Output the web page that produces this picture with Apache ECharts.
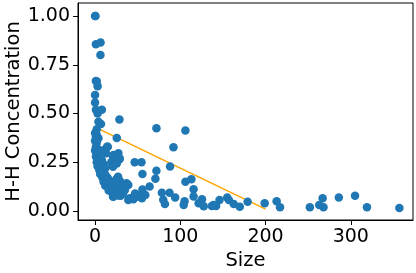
<!DOCTYPE html>
<html><head><meta charset="utf-8">
<script src="https://cdn.jsdelivr.net/npm/echarts@6/dist/echarts.min.js"></script>
<style>html,body{margin:0;padding:0;background:#fff}#c{width:416px;height:273px}</style>
</head><body><div id="c"></div>
<script>
const sizeX = [0,0.5,1,6.5,6.3,1,3,2,0,0,1,8,3,28.6,4,7,2,4,25.5,2,1,
 0,1,0,2,1,3,0,2,4,1,3,5,2,4,3,6,5,7,6,8,9,11,10,13,12,15,17,16,19,22,24,27,30,21,
 7,9,13,14,15,21,21.5,27.4,29,28.6,19,22,21,25.5,8,10,12,9,11,13,15,14,17,19,21,23,25,29,32.5,37,27,39,35,29,21.5,27,21.5,41,49,39,45,53,43,47,26,31,33,
 72,106,92,46.5,54.5,55.6,88,72,70.8,64,55.6,55,59,78.4,87.4,80,82,94,105,104,106,113,115.6,115.6,121.5,125.5,127.5,137,142,146,139,155,157,162.7,169.8,179,199,213,217,252,263,268,267,286,305,319,357];
const hhY = [1.00,1.00,0.855,0.865,0.80,0.667,0.64,0.665,0.595,0.557,0.52,0.52,0.50,0.47,0.458,0.446,0.39,0.373,0.374,0.42,0.40,
 0.40,0.38,0.36,0.35,0.33,0.32,0.31,0.30,0.29,0.28,0.27,0.26,0.25,0.24,0.23,0.22,0.21,0.20,0.19,0.18,0.17,0.16,0.15,0.14,0.13,0.125,0.115,0.105,0.10,0.09,0.085,0.08,0.078,0.075,
 0.30,0.31,0.296,0.33,0.33,0.28,0.287,0.296,0.27,0.265,0.25,0.236,0.227,0.244,0.26,0.24,0.22,0.21,0.195,0.18,0.17,0.16,0.155,0.145,0.135,0.125,0.164,0.155,0.133,0.142,0.176,0.133,0.108,0.116,0.108,0.086,0.073,0.065,0.073,0.056,0.06,0.082,0.065,0.09,0.10,0.095,0.09,
 0.424,0.413,0.327,0.25,0.25,0.19,0.228,0.207,0.166,0.126,0.111,0.065,0.082,0.094,0.094,0.058,0.036,0.07,0.05,0.031,0.15,0.163,0.112,0.075,0.04,0.06,0.024,0.026,0.026,0.056,0.031,0.07,0.056,0.036,0.022,0.047,0.04,0.05,0.02,0.02,0.031,0.02,0.065,0.07,0.078,0.02,0.015];
const fitX = [0, 200];
const fitY = [0.43, 0.01];
const xTicks = [0, 100, 200, 300];
const yTicks = [0, 0.25, 0.5, 0.75, 1.0];

const chart = echarts.init(document.getElementById('c'), null, {renderer:'canvas'});
const font = 'DejaVu Sans';
chart.setOption({
  animation: false,
  grid: {left: 78, right: 3, top: 3, bottom: 53, show: true, borderColor: '#000', borderWidth: 1,
         containLabel: false, outerBoundsMode: 'none'},
  xAxis: {
    type: 'value', min: -20, max: 373,
    name: 'Size', nameLocation: 'middle', nameGap: 31, nameMoveOverlap: false,
    nameTextStyle: {fontFamily: font, fontSize: 19.5, color: '#000'},
    axisLine: {show: true, onZero: false, lineStyle: {color: '#000'}},
    axisTick: {show: true, customValues: xTicks, length: 5, lineStyle: {color: '#000'}},
    axisLabel: {customValues: xTicks, fontFamily: font, fontSize: 19, color: '#000', margin: 8},
    splitLine: {show: false}
  },
  yAxis: {
    type: 'value', min: -0.046, max: 1.067,
    name: 'H-H Concentration', nameLocation: 'middle', nameGap: 54, nameMoveOverlap: false,
    nameTextStyle: {fontFamily: font, fontSize: 19.5, color: '#000'},
    axisLine: {show: true, onZero: false, lineStyle: {color: '#000'}},
    axisTick: {show: true, customValues: yTicks, length: 5, lineStyle: {color: '#000'}},
    axisLabel: {customValues: yTicks, fontFamily: font, fontSize: 19, color: '#000', margin: 8,
      formatter: v => v.toFixed(2)},
    splitLine: {show: false}
  },
  series: [
    {type: 'line', data: fitX.map((x,i)=>[x, fitY[i]]), symbol: 'none',
     lineStyle: {color: '#ffa500', width: 1.5}, z: 1},
    {type: 'scatter', data: sizeX.map((x,i)=>[x, hhY[i]]), symbolSize: 8.5,
     itemStyle: {color: '#1f77b4', opacity: 1}, z: 2}
  ]
});
</script></body></html>
